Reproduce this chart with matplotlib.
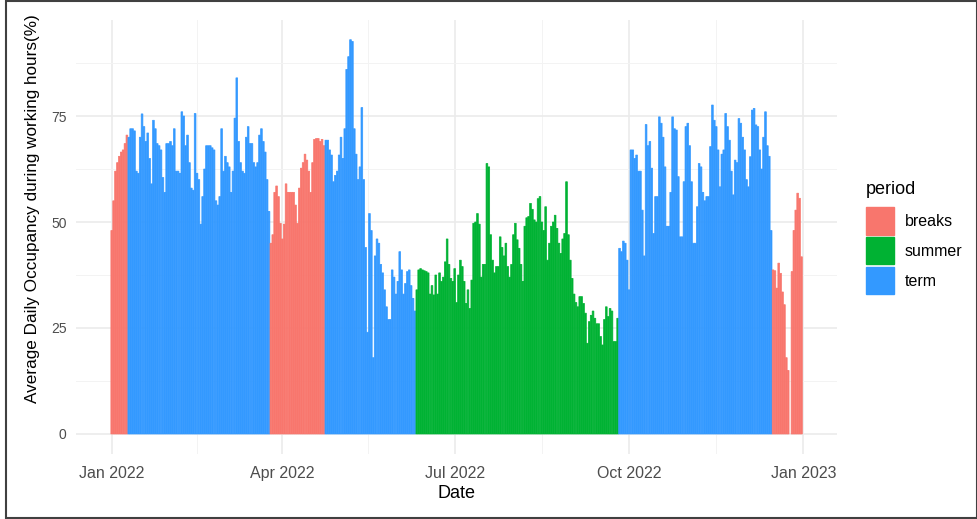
import numpy as np
import pandas as pd
import matplotlib
matplotlib.use("Agg")
import matplotlib.pyplot as plt
import matplotlib.dates as mdates
from matplotlib.patches import Rectangle

plt.rcParams['font.family'] = ['Liberation Sans', 'DejaVu Sans']

# daily average occupancy (%), one value per day from 1 Jan 2022
new_year_break = [48, 55, 62, 64, 65.5, 66.5, 67, 68.5, 70.5]
spring_term = [70, 72, 72, 71.5, 62, 61.5, 70, 75.5, 72.5, 69, 71, 65, 59, 74, 72,
               68.5, 68, 67, 60.5, 57, 68.5, 68.5, 69, 68, 72, 62, 62, 61.5, 76, 75,
               68, 70.5, 64, 58, 57.5,
               75.6, 61.5, 60, 49.5, 56, 62.5, 68, 68, 68, 67.5, 67, 55, 54, 56, 72,
               62, 65.5, 64, 63, 57, 62, 74.5, 84, 69, 64, 62, 61.5, 70, 72.5, 68.5,
               68.5, 64, 63, 64, 70.5, 72, 69, 66.5, 60, 52.5]
easter_break = [45, 47, 57, 58.5, 56, 49.7, 46, 49.5, 59, 57, 57, 57, 57, 54, 49.7,
                58, 62.7, 64, 66, 64.6, 62, 57, 64, 69.5, 69.7, 69.7, 69, 69.5, 68]
summer_term = [69.3, 69.3, 67, 65.8, 59.5, 61, 62, 65.8, 70, 65, 72, 86, 89, 93, 92.6,
               72, 66, 60, 63, 77, 60, 44, 24, 52, 48, 18, 42, 46, 45, 40, 38, 34,
               30, 27, 27, 38.7, 37, 33, 36, 43, 38.7, 33, 35.5, 38.3, 38.7, 35, 32, 29]
summer = [34, 38.7, 39, 38.7, 38.5, 38.3, 38, 33, 35, 32.8, 37.5, 33, 38, 36, 37,
          40.6, 46, 40, 36.7, 36, 39, 31, 37.5, 41, 39.5, 36, 30.8, 34, 29.6, 36.3,
          49.7, 50, 52, 49.5, 37, 40, 40, 63.8, 63, 47, 41, 38, 39.5, 39.5, 46.5,
          44, 42, 45, 39.5, 37, 40, 47, 49.7, 45.8, 43.8, 40, 36, 49, 51, 51.3,
          54.4, 53, 50.5, 50, 55.5, 56, 50, 48, 53.6, 41, 45, 49, 50, 51.6, 48.5,
          45, 42.6, 46, 47.3, 59.5, 47, 41, 36.7, 33, 31, 30, 32.4, 32.4, 30.8, 28.5,
          21.4, 26.5, 28, 29, 27.3, 26, 26, 23, 21, 27, 30, 27.7, 29.6, 29, 21.8,
          21.8, 27.3]
autumn_term = [43.8, 43, 45.5, 45, 41, 34, 67, 67, 65, 65.8, 62, 62, 52.8, 42, 73,
               68, 69, 62.7, 47.3, 56, 56, 74.8, 73.3, 70, 63, 49, 49, 57, 74.8, 72,
               71.7, 60.7, 46.5, 46.5, 59.5, 72.5, 73.3, 68, 59.5, 45, 45, 53.6, 63.8,
               63, 57, 55, 56, 56, 67.8, 77.6, 74, 72.5, 67, 58.3, 66, 67, 75.6, 72.5,
               69.3, 62, 56.4, 64.6, 64, 74.4, 73.3, 70, 67, 60, 58.3, 65.4, 76.4,
               76.8, 72.9, 72.5, 67, 62.5, 70, 76, 68, 65.5, 48]
christmas_break = [38.7, 38.5, 34.4, 40.3, 37.9, 33.5, 30.5, 18, 15, np.nan, 38.3,
                   48, 52.8, 56.8, 55.6, 41.8]

blocks = [new_year_break, spring_term, easter_break, summer_term, summer,
          autumn_term, christmas_break]
block_period = ['breaks', 'term', 'breaks', 'term', 'summer', 'term', 'breaks']

occupancy = np.concatenate([np.array(b, dtype=float) for b in blocks])
period = np.concatenate([[p] * len(b) for p, b in zip(block_period, blocks)])
dates = pd.date_range('2022-01-01', periods=len(occupancy), freq='D')

period_names = ['breaks', 'summer', 'term']
period_colors = {'breaks': '#F8766D', 'summer': '#00B233', 'term': '#3399FF'}

W, H = 978, 519
fig = plt.figure(figsize=(W / 100, H / 100), dpi=100)
px = lambda x: x / W
py = lambda y: 1 - y / H

ax = fig.add_axes([px(76.3), py(453.7), px(836.9) - px(76.3), py(20) - py(453.7)])

bar_colors = [period_colors[p] for p in period]
bars = ax.bar(dates, occupancy, width=0.9, color=bar_colors, edgecolor=bar_colors,
              linewidth=0.5, zorder=2)
for b in bars:
    b.set_snap(False)

start = mdates.date2num(pd.Timestamp('2022-01-01'))
ax.set_xlim(start - 18.7, start + 382.7)
ax.set_ylim(-4.65, 97.65)

major_dates = pd.to_datetime(['2022-01-01', '2022-04-01', '2022-07-01',
                              '2022-10-01', '2023-01-01'])
major_num = mdates.date2num(major_dates)
ax.set_xticks(major_num)
ax.set_xticklabels([d.strftime('%b %Y') for d in major_dates])
ax.set_xticks((major_num[:-1] + major_num[1:]) / 2, minor=True)
ax.set_yticks([0, 25, 50, 75])
ax.set_yticks([12.5, 37.5, 62.5, 87.5], minor=True)

ax.grid(True, which='major', color='#EBEBEB', linewidth=1.2, zorder=0)
ax.grid(True, which='minor', color='#F3F3F3', linewidth=0.7, zorder=0)
ax.set_axisbelow(True)
for s in ax.spines.values():
    s.set_visible(False)
ax.tick_params(which='both', length=0)
ax.tick_params(axis='x', labelsize=11.5, labelcolor='#4D4D4D', pad=9)
ax.tick_params(axis='y', labelsize=10, labelcolor='#4D4D4D', pad=7)

fig.text(px(456.6), py(494), 'Date', fontsize=13, ha='center', va='center')
fig.text(px(33), py(209), 'Average Daily Occupancy during working hours(%)',
         fontsize=12.3, rotation=90, ha='center', va='center')

# legend
fig.text(px(866), py(190), 'period', fontsize=13, ha='left', va='center')
sw_top = [207.3, 236.9, 266.8]
for name, top in zip(period_names, sw_top):
    fig.patches.append(Rectangle((px(866), py(top + 27.2)), px(28), 27.2 / H,
                                 transform=fig.transFigure, color=period_colors[name]))
    fig.text(px(905), py(top + 14.5), name, fontsize=11.5, ha='left', va='center')

fig.patches.append(Rectangle((px(6), py(518)), px(971), 517 / H, transform=fig.transFigure,
                             fill=False, edgecolor='#404040', linewidth=1.5))

fig.savefig('out.png', dpi=100)
